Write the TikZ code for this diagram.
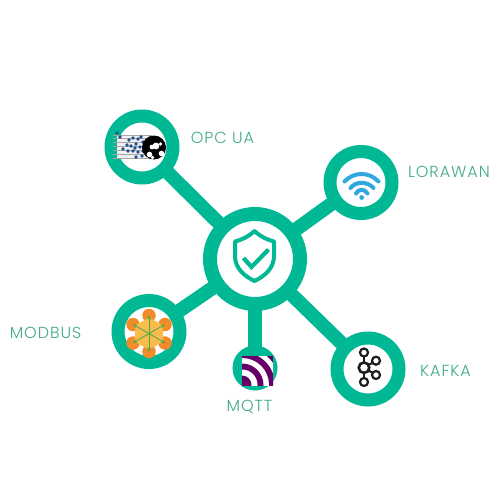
\documentclass[tikz,border=0pt]{standalone}
\usepackage{fontspec}
\setmainfont{Poppins}[UprightFont=* Light,LetterSpace=6]
\usetikzlibrary{backgrounds}
\definecolor{rr}{RGB}{0, 184, 148}
\definecolor{tt}{RGB}{62, 170, 135}
\definecolor{oo}{RGB}{242, 140, 40}
\definecolor{ll}{RGB}{250, 186, 76}
\definecolor{gg}{RGB}{63, 174, 73}
\definecolor{pp}{RGB}{102, 0, 102}
\definecolor{ww}{RGB}{47, 168, 224}
\definecolor{bb}{RGB}{31, 78, 140}
\definecolor{kk}{RGB}{30, 30, 30}
\tikzset{
  ring/.style={circle, minimum size=62pt, inner sep=0pt, fill=white, line width=13pt, draw=rr},
  tag/.style={inner sep=0pt, font=\fontsize{16}{18}\selectfont, text=tt},
  spoke/.style={line width=14pt, color=rr},
  kafkadot/.style={circle, minimum size=8pt, inner sep=0pt, fill=white, line width=2.2pt, draw=kk},
  modbusdot/.style={circle, minimum size=13.5pt, inner sep=0pt, fill=oo},
  modbusline/.style={line width=0.8pt, color=gg, -stealth},
  wifiarc/.style={line width=4pt, color=ww, line cap=round},
}
\begin{document}
\begin{tikzpicture}
\useasboundingbox (0pt, 0pt) rectangle (500pt, -500pt);
% hub and rings
\node (hub) [ring, minimum size=90pt, line width=14pt] at (255.0pt, -259.0pt) {};
\node (opc) [ring] at (142.0pt, -147.0pt) {};
\node (lora) [ring] at (361.0pt, -182.5pt) {};
\node (modbus) [ring] at (149.0pt, -331.5pt) {};
\node (mqtt) [circle, minimum size=45pt, inner sep=0pt, fill=rr] at (255.0pt, -368.0pt) {};
\node (kafka) [ring] at (368.0pt, -369.0pt) {};
\begin{pgfonlayer}{background}
\draw [spoke] (hub.center) to (opc.center);
\draw [spoke] (hub.center) to (lora.center);
\draw [spoke] (hub.center) to (modbus.center);
\draw [spoke] (hub.center) to (mqtt.center);
\draw [spoke] (hub.center) to (kafka.center);
\end{pgfonlayer}
% labels
\node (opclabel) [tag] at (222.5pt, -137.5pt) {OPC UA};
\node (loralabel) [tag] at (449.0pt, -171.5pt) {LORAWAN};
\node (modbuslabel) [tag] at (45.5pt, -332.5pt) {MODBUS};
\node (mqttlabel) [tag] at (249.5pt, -407.0pt) {MQTT};
\node (kafkalabel) [tag] at (445.5pt, -370.5pt) {KAFKA};
% shield
\draw [line width=4pt, color=rr, line join=round] (254.5pt, -231.0pt) .. controls (248pt, -237pt) and (241pt, -240pt) .. (235pt, -241.5pt) -- (235pt, -256pt) .. controls (235pt, -268pt) and (244pt, -276pt) .. (254.5pt, -281pt) .. controls (265pt, -276pt) and (274pt, -268pt) .. (274pt, -256pt) -- (274pt, -241.5pt) .. controls (268pt, -240pt) and (261pt, -237pt) .. (254.5pt, -231.0pt) -- cycle;
\draw [line width=4.2pt, color=rr] (243.5pt, -258.0pt) -- (251.5pt, -267.0pt) -- (268.5pt, -249.5pt);
% wifi
\draw [wifiarc] (344.5pt, -181.5pt) .. controls (354pt, -171.5pt) and (369pt, -171.5pt) .. (378.5pt, -181.5pt);
\draw [wifiarc] (350.5pt, -188.0pt) .. controls (356pt, -181pt) and (367pt, -181pt) .. (373.5pt, -188.0pt);
\draw [wifiarc] (356.0pt, -193.5pt) .. controls (358.5pt, -188.5pt) and (364.5pt, -188.5pt) .. (367.5pt, -193.5pt);
\fill [ww] (361.7pt, -197.5pt) circle (2.4pt);
% modbus
\node (m1) [modbusdot] at (149.0pt, -315.5pt) {};
\node (m2) [modbusdot] at (165.0pt, -324.5pt) {};
\node (m3) [modbusdot] at (165.0pt, -343.0pt) {};
\node (m4) [modbusdot] at (149.0pt, -351.5pt) {};
\node (m5) [modbusdot] at (133.0pt, -343.0pt) {};
\node (m6) [modbusdot] at (133.0pt, -324.5pt) {};
\fill [ll] (149.0pt, -317.5pt) -- (163.0pt, -325.5pt) -- (163.0pt, -342.0pt) -- (149.0pt, -349.5pt) -- (135.0pt, -342.0pt) -- (135.0pt, -325.5pt) -- cycle;
\coordinate (m0) at (149.0pt, -333.5pt);
\draw [modbusline] (m0) to (m1.center);
\draw [modbusline] (m0) to (m2.center);
\draw [modbusline] (m0) to (m3.center);
\draw [modbusline] (m0) to (m4.center);
\draw [modbusline] (m0) to (m5.center);
\draw [modbusline] (m0) to (m6.center);
% mqtt
\begin{scope}
\clip (242.0pt, -356.0pt) rectangle (273.0pt, -385.0pt);
\fill [pp] (242.0pt, -356.0pt) rectangle (273.0pt, -385.0pt);
\fill [white] (242.0pt, -385.0pt) circle (38pt);
\fill [pp] (242.0pt, -385.0pt) circle (33pt);
\fill [white] (242.0pt, -385.0pt) circle (27pt);
\fill [pp] (242.0pt, -385.0pt) circle (21.5pt);
\fill [white] (242.0pt, -385.0pt) circle (15.5pt);
\fill [pp] (242.0pt, -385.0pt) circle (9.5pt);
\end{scope}
% kafka
\draw [line width=2pt, color=kk] (364.0pt, -352.5pt) -- (364.0pt, -382.0pt);
\draw [line width=2pt, color=kk] (376.0pt, -360.7pt) -- (364.0pt, -367.7pt) -- (376.0pt, -375.0pt);
\node (k0) [kafkadot, minimum size=10.5pt, line width=2.6pt] at (364.0pt, -367.7pt) {};
\node (k1) [kafkadot] at (364.0pt, -352.5pt) {};
\node (k2) [kafkadot] at (376.0pt, -360.7pt) {};
\node (k3) [kafkadot] at (376.0pt, -375.0pt) {};
\node (k4) [kafkadot] at (364.0pt, -382.0pt) {};
% opc
\fill [black!6] (117.0pt, -135.0pt) rectangle (150.0pt, -159.0pt);
\foreach \y in {135, 138.5, 142, 146, 150, 154, 158}
  \draw [line width=0.25pt, color=black!35] (113.0pt, -\y pt) -- (152.0pt, -\y pt);
\foreach \x/\y in {117/133, 120/137, 129/140, 133/138, 138/139, 141/137, 143/142, 127/145, 131/146, 136/144, 140/147, 146/145, 123/149, 128/151, 133/151, 138/152, 143/151, 136/157, 142/156, 147/155, 135/148}
  \fill [bb] (\x pt, -\y pt) circle (1.9pt);
\fill [black] (154.0pt, -147.5pt) circle (12pt);
\fill [white] (156.0pt, -146.0pt) circle (3.4pt);
\fill [white] (152.0pt, -147.0pt) circle (2.4pt);
\fill [white] (160.5pt, -144.0pt) circle (1.8pt);
\fill [white] (149.5pt, -154.5pt) circle (2.8pt);
\fill [white] (152.5pt, -157.5pt) circle (1.8pt);
\fill [white] (161.5pt, -153.5pt) circle (2.8pt);
\end{tikzpicture}
\end{document}
